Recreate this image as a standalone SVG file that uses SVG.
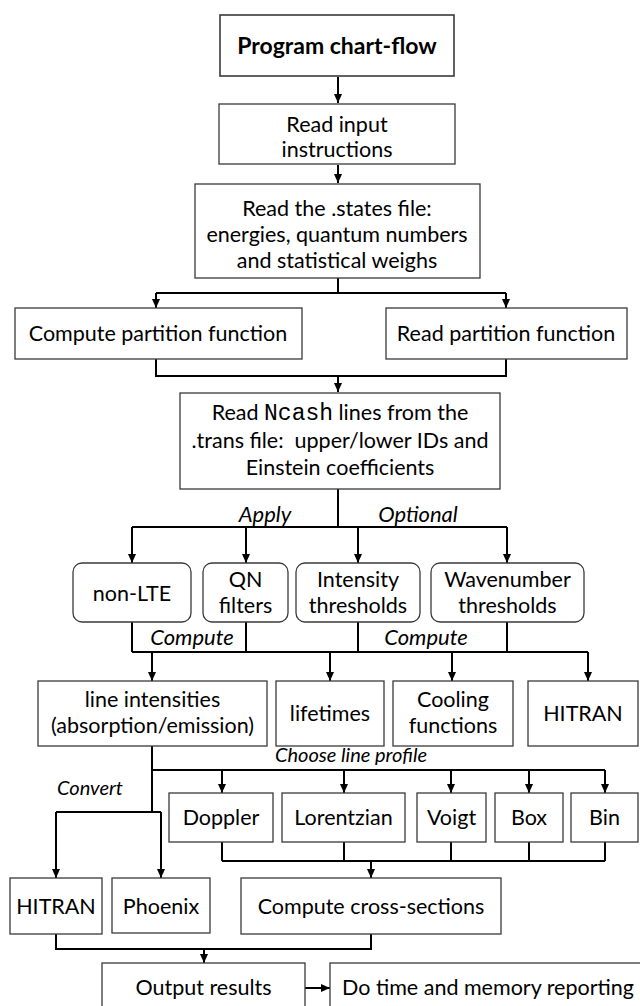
<svg xmlns="http://www.w3.org/2000/svg" width="640" height="1006" viewBox="0 0 640 1006">
<style>
  .bx { fill: #fff; stroke: #3a3a3a; stroke-width: 1.3; }
  .t { font-family: Lato, "Liberation Sans", sans-serif; font-size: 21.5px; fill: #000; text-anchor: middle; }
  .b { font-weight: bold; font-size: 23px; }
  .i { font-family: Lato, "Liberation Sans", sans-serif; font-style: italic; font-size: 22px; fill: #000; text-anchor: middle; }
  .s { font-size: 20px; }
  .m { font-family: "Liberation Mono", monospace; font-size: 23px; }
  .c { fill: none; stroke: #000; stroke-width: 2; }
  .a { fill: none; stroke: #000; stroke-width: 2; marker-end: url(#ah); }
</style>
<defs>
  <marker id="ah" markerWidth="10" markerHeight="10" refX="9" refY="4" orient="auto" markerUnits="userSpaceOnUse">
    <path d="M0,0 L9,4 L0,8 z" fill="#000"/>
  </marker>
</defs>
<rect width="640" height="1006" fill="#fff"/>

<g id="connectors">
  <path class="a" d="M338,77 V103"/>
  <path class="a" d="M338,165 V183"/>
  <path class="c" d="M338,278 V293 M156,293 H506"/>
  <path class="a" d="M156,293 V308"/>
  <path class="a" d="M506,293 V308"/>
  <path class="c" d="M156,359 V376 H506 V359"/>
  <path class="a" d="M338,376 V392"/>
  <path class="c" d="M338,489 V527 M132,527 H507"/>
  <path class="a" d="M132,527 V563"/>
  <path class="a" d="M246,527 V563"/>
  <path class="a" d="M358,527 V563"/>
  <path class="a" d="M507,527 V563"/>
  <path class="c" d="M132,622 V652 M246,622 V652 M358,622 V652 M507,622 V652 M132,652 H588"/>
  <path class="a" d="M152,652 V681"/>
  <path class="a" d="M330,652 V681"/>
  <path class="a" d="M452,652 V681"/>
  <path class="a" d="M588,652 V681"/>
  <path class="c" d="M152,746 V812 M152,770 H605 M56,812 H161"/>
  <path class="a" d="M222,770 V793"/>
  <path class="a" d="M344,770 V793"/>
  <path class="a" d="M451,770 V793"/>
  <path class="a" d="M529,770 V793"/>
  <path class="a" d="M605,770 V793"/>
  <path class="a" d="M56,812 V878"/>
  <path class="a" d="M161,812 V878"/>
  <path class="c" d="M222,842 V861 M344,842 V861 M451,842 V861 M529,842 V861 M605,842 V861 M222,861 H605"/>
  <path class="a" d="M371,861 V878"/>
  <path class="c" d="M56,934 V949 H371 V934"/>
  <path class="a" d="M204,949 V963"/>
  <path class="a" d="M305,988 H330"/>
  <text class="i" x="265" y="522">Apply</text>
  <text class="i" x="418" y="522">Optional</text>
  <text class="i" x="192" y="645">Compute</text>
  <text class="i" x="426" y="645">Compute</text>
  <text class="i s" x="351" y="762">Choose line profile</text>
  <text class="i s" x="90" y="795">Convert</text>
</g>

<g id="title"><rect class="bx" x="220" y="15" width="234" height="61" style="stroke-width:1.6"/><text class="t b" x="337" y="54">Program chart-flow</text></g>
<g id="read-input"><rect class="bx" x="219" y="104" width="236" height="60"/><text class="t" x="337" y="132">Read input</text><text class="t" x="337" y="157">instructions</text></g>
<g id="read-states"><rect class="bx" x="195" y="184" width="285" height="94"/><text class="t" x="337" y="216">Read the .states file:</text><text class="t" x="337" y="242">energies, quantum numbers</text><text class="t" x="337" y="268">and statistical weighs</text></g>
<g id="compute-pf"><rect class="bx" x="15" y="308" width="287" height="51"/><text class="t" x="158" y="341">Compute partition function</text></g>
<g id="read-pf"><rect class="bx" x="386" y="308" width="241" height="51"/><text class="t" x="506" y="341">Read partition function</text></g>
<g id="read-trans"><rect class="bx" x="180" y="393" width="320" height="96"/><text class="t" x="340" y="420">Read <tspan class="m">Ncash</tspan> lines from the</text><text class="t" x="340" y="448" style="white-space:pre">.trans file:  upper/lower IDs and</text><text class="t" x="340" y="475">Einstein coefficients</text></g>
<g id="non-lte"><rect class="bx" x="73" y="563" width="118" height="59" rx="9"/><text class="t" x="132" y="601">non-LTE</text></g>
<g id="qn-filters"><rect class="bx" x="203" y="563" width="85" height="59" rx="9"/><text class="t" x="245.5" y="587">QN</text><text class="t" x="245.5" y="613">filters</text></g>
<g id="intensity-thresholds"><rect class="bx" x="296" y="563" width="124" height="59" rx="9"/><text class="t" x="358" y="587">Intensity</text><text class="t" x="358" y="613">thresholds</text></g>
<g id="wavenumber-thresholds"><rect class="bx" x="431" y="563" width="153" height="59" rx="9"/><text class="t" x="507.5" y="587">Wavenumber</text><text class="t" x="507.5" y="613">thresholds</text></g>
<g id="line-intensities"><rect class="bx" x="38" y="681" width="229" height="65"/><text class="t" x="152.5" y="707">line intensities</text><text class="t" x="152.5" y="733">(absorption/emission)</text></g>
<g id="lifetimes"><rect class="bx" x="276" y="681" width="108" height="65"/><text class="t" x="330" y="721">lifetimes</text></g>
<g id="cooling"><rect class="bx" x="393" y="681" width="120" height="65"/><text class="t" x="453" y="707">Cooling</text><text class="t" x="453" y="733">functions</text></g>
<g id="hitran-1"><rect class="bx" x="528" y="681" width="110" height="65"/><text class="t" x="583" y="721">HITRAN</text></g>
<g id="doppler"><rect class="bx" x="169" y="793" width="104" height="49"/><text class="t" x="221" y="825">Doppler</text></g>
<g id="lorentzian"><rect class="bx" x="282" y="793" width="123" height="49"/><text class="t" x="343.5" y="825">Lorentzian</text></g>
<g id="voigt"><rect class="bx" x="417" y="793" width="69" height="49"/><text class="t" x="451.5" y="825">Voigt</text></g>
<g id="box"><rect class="bx" x="495" y="793" width="68" height="49"/><text class="t" x="529" y="825">Box</text></g>
<g id="bin"><rect class="bx" x="571" y="793" width="67" height="49"/><text class="t" x="604.5" y="825">Bin</text></g>
<g id="hitran-2"><rect class="bx" x="10" y="878" width="92" height="56"/><text class="t" x="56" y="914">HITRAN</text></g>
<g id="phoenix"><rect class="bx" x="112" y="878" width="98" height="55"/><text class="t" x="161" y="914">Phoenix</text></g>
<g id="cross-sections"><rect class="bx" x="241" y="878" width="260" height="56"/><text class="t" x="371" y="914">Compute cross-sections</text></g>
<g id="output"><rect class="bx" x="102" y="963" width="203" height="50"/><text class="t" x="203.5" y="995">Output results</text></g>
<g id="reporting"><rect class="bx" x="330" y="963" width="320" height="50"/><text class="t" x="488" y="995">Do time and memory reporting</text></g>
</svg>
